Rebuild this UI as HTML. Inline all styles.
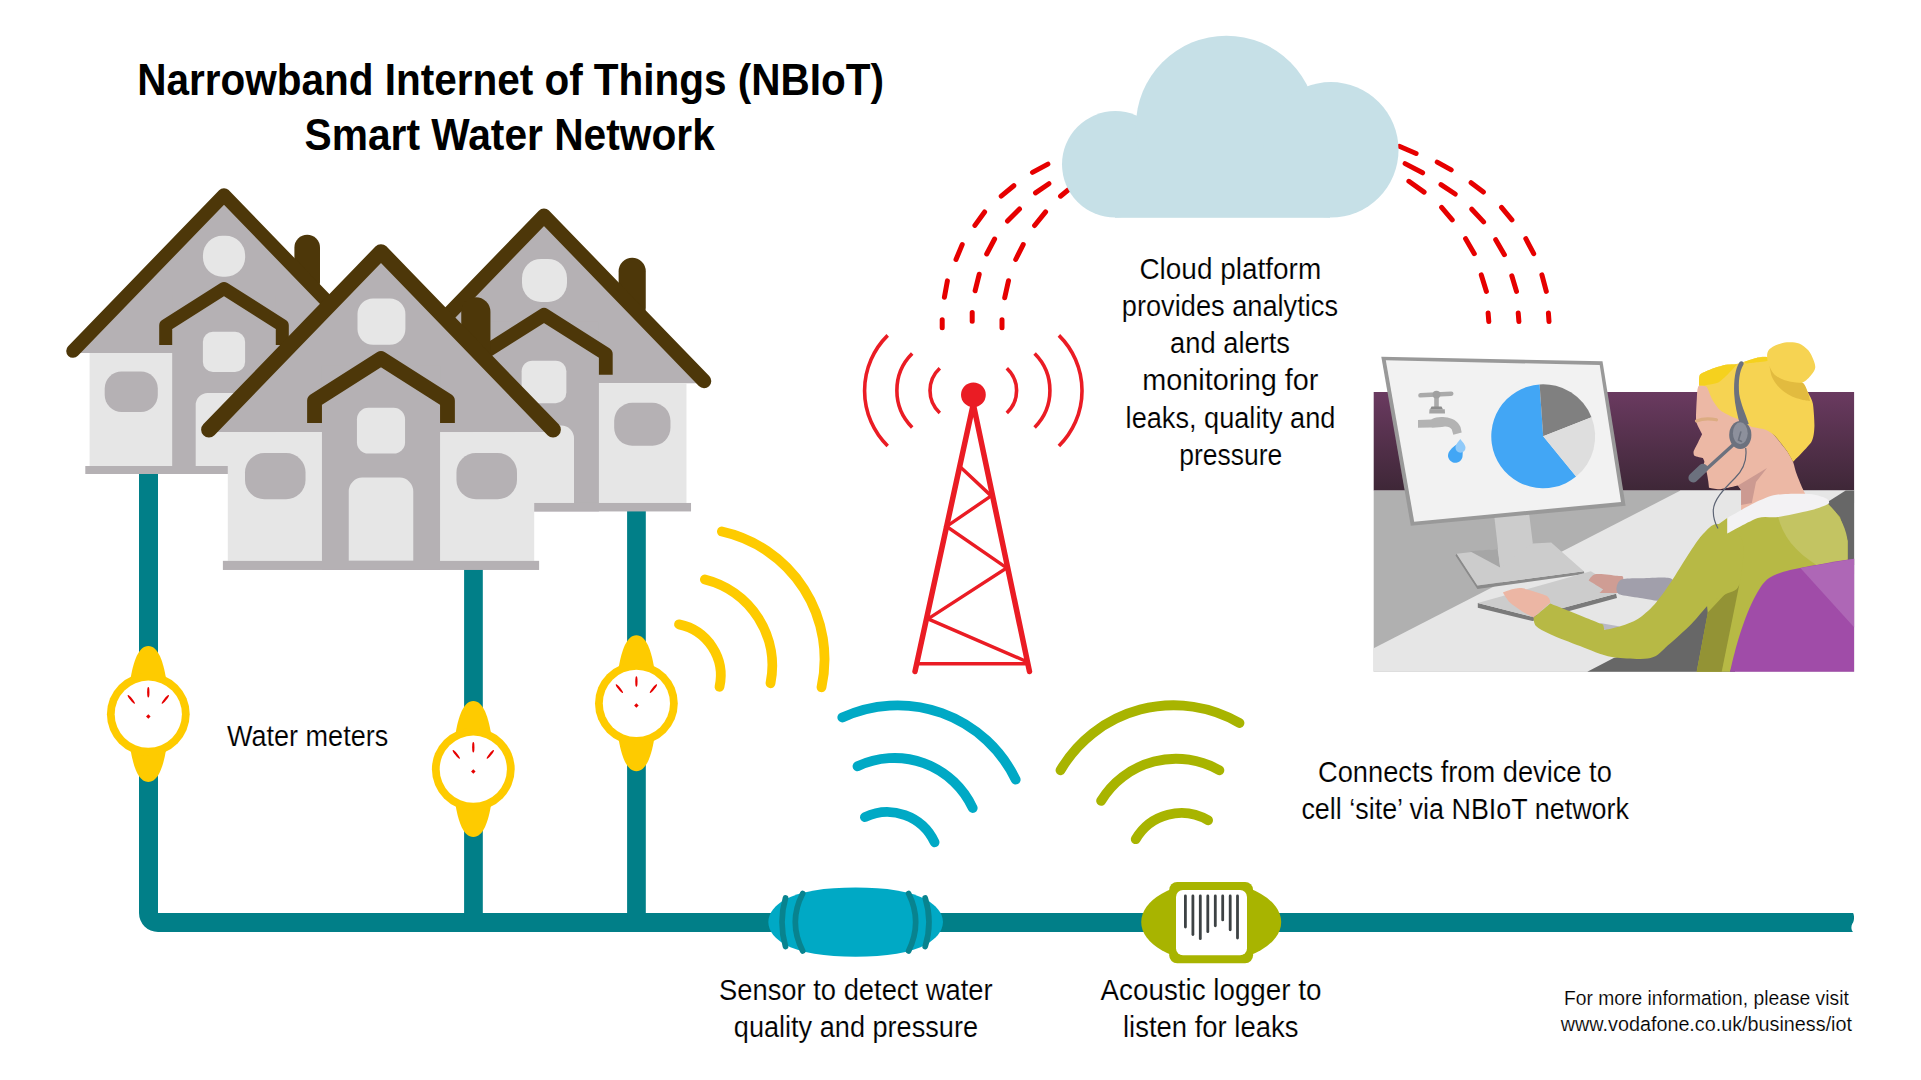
<!DOCTYPE html>
<html><head><meta charset="utf-8"><title>NBIoT Smart Water Network</title>
<style>
html,body{margin:0;padding:0;background:#fff;overflow:hidden;width:1921px;height:1080px}
svg{display:block}
text{font-family:"Liberation Sans",sans-serif;fill:#000}
</style></head><body>
<svg width="1921" height="1080" viewBox="0 0 1921 1080">
<defs>
<g id="house">
 <rect x="70.4" y="39.7" width="25.6" height="60" rx="12.8" fill="#4d3709"/>
 <polygon points="-151,158 0,0 151,158" fill="#b5b1b4"/>
 <rect x="-134.4" y="158" width="268.8" height="113" fill="#e6e6e6"/>
 <rect x="-51.8" y="100" width="103.6" height="179" fill="#b5b1b4"/>
 <path d="M-28.3,271V210a12,12 0 0 1 12,-12H16.3a12,12 0 0 1 12,12V271Z" fill="#e6e6e6"/>
 <rect x="-138.7" y="271" width="277.4" height="8" fill="#b5b1b4"/>
 <rect x="-119.3" y="176.5" width="53.1" height="40.5" rx="17" fill="#b5b1b4"/>
 <rect x="66.2" y="176.5" width="53.1" height="40.5" rx="17" fill="#b5b1b4"/>
 <rect x="-21.1" y="136.8" width="42.2" height="40.1" rx="10" fill="#e6e6e6"/>
 <polyline points="-58.3,150 -58.3,130.5 0,93.5 58.3,130.5 58.3,150" fill="none" stroke="#4d3709" stroke-width="13" stroke-linejoin="round"/>
 <polyline points="-151,156 0,0 151,156" fill="none" stroke="#4d3709" stroke-width="13.6" stroke-linejoin="round" stroke-linecap="round"/>
</g>
<g id="meter">
 <path d="M-17.7,-36 C-15,-52 -10,-68.2 0,-68.2 C10,-68.2 15,-52 17.7,-36 Z" fill="#fecb00"/>
 <path d="M-17.7,36 C-15,52 -10,67.8 0,67.8 C10,67.8 15,52 17.7,36 Z" fill="#fecb00"/>
 <circle cx="0" cy="0" r="41.4" fill="#fecb00"/>
 <circle cx="0" cy="0" r="33.6" fill="#fff"/>
 <g fill="#e60000">
  <ellipse cx="0" cy="-21.9" rx="1.15" ry="5.3"/>
  <ellipse cx="-17" cy="-14.8" rx="1.15" ry="5.6" transform="rotate(-38.7 -17 -14.8)"/>
  <ellipse cx="17" cy="-14.8" rx="1.15" ry="5.6" transform="rotate(38.7 17 -14.8)"/>
 </g>
 <rect x="-1.6" y="0.6" width="3.2" height="3.2" transform="rotate(45 0 2.2)" fill="#e60000"/>
</g>
</defs>

<!-- Title -->

<!-- pipes -->
<g fill="#017f88">
 <path d="M139,470V913A19,19 0 0 0 158,932H1853C1851,930 1851,926 1852.3,923.7C1854.5,921 1854.5,915 1853,913H158V470Z"/>
 <rect x="464.1" y="566" width="18.7" height="354"/>
 <rect x="627.1" y="508" width="18.7" height="412"/>
</g>

<!-- houses -->
<use href="#house" transform="translate(224,195)"/>
<rect x="202.95" y="235.8" width="42.2" height="41" rx="19.5" fill="#e6e6e6"/>
<use href="#house" transform="translate(544,215.7) scale(1.06)"/>
<rect x="522" y="258.9" width="45" height="43.1" rx="19" fill="#e6e6e6"/>
<use href="#house" transform="translate(381,251.9) scale(1.14)"/>
<rect x="357.5" y="298.5" width="47.9" height="46.2" rx="15.6" fill="#e6e6e6"/>

<!-- meters -->
<use href="#meter" transform="translate(148.3,714.2)"/>
<use href="#meter" transform="translate(473.3,769.2)"/>
<use href="#meter" transform="translate(636.4,703.4)"/>

<!-- signal arcs -->
<g fill="none" stroke-width="9.8" stroke-linecap="round">
 <g stroke="#fecb00">
  <path d="M679,624.4A52.2,52.2 0 0 1 719.5,686.8"/>
  <path d="M704.9,579.5A88.9,88.9 0 0 1 770.5,683.3"/>
  <path d="M721.9,531.5A130.8,130.8 0 0 1 821.5,687.3"/>
 </g>
 <g stroke="#00a9c5">
  <path d="M842.3,717.5A131.1,131.1 0 0 1 1015.7,779.7"/>
  <path d="M857.5,766.3A86.3,86.3 0 0 1 972.7,808"/>
  <path d="M864.9,817.1A52,52 0 0 1 934.6,842.3"/>
 </g>
 <g stroke="#a8b400">
  <path d="M1060.5,770.3A131,131 0 0 1 1239.5,723"/>
  <path d="M1101.1,800.9A87.5,87.5 0 0 1 1219.4,770.3"/>
  <path d="M1135.7,839.2A52.8,52.8 0 0 1 1208.1,820.3"/>
 </g>
</g>

<!-- sensor -->
<g>
 <path d="M768.3,922 C768.5,912 776,905 784,900 C800,891 825,887.4 855.6,887.4 C886,887.4 911,891 927,900 C935,905 942.8,912 943,922 C942.8,932 935,939 927,944 C911,953 886,956.8 855.6,956.8 C825,956.8 800,953 784,944 C776,939 768.5,932 768.3,922Z" fill="#00a9c5"/>
 <g fill="none" stroke="#08838f" stroke-width="5.7" stroke-linecap="round">
  <path d="M785.5,898 Q778.5,922 785.5,946.5"/>
  <path d="M802.7,893.5 Q787.9,922 802.7,951"/>
  <path d="M908.6,893.5 Q922.8,922 908.6,951"/>
  <path d="M925.2,898 Q932.8,922 925.2,946.5"/>
 </g>
</g>

<!-- acoustic logger -->
<g>
 <ellipse cx="1211.2" cy="922" rx="70" ry="40" fill="#a8b400"/>
 <rect x="1169.2" y="882" width="83.9" height="81.3" rx="8" fill="#a8b400"/>
 <rect x="1176" y="889.9" width="71" height="65.4" rx="7" fill="#fff"/>
 <g stroke="#3d4244" stroke-width="2.8" stroke-linecap="round">
  <line x1="1185.4" y1="896" x2="1185.4" y2="927"/>
  <line x1="1192.9" y1="896" x2="1192.9" y2="934.5"/>
  <line x1="1200.3" y1="896" x2="1200.3" y2="938.7"/>
  <line x1="1207.8" y1="896" x2="1207.8" y2="931.7"/>
  <line x1="1215.3" y1="896" x2="1215.3" y2="925.8"/>
  <line x1="1222.7" y1="896" x2="1222.7" y2="919.9"/>
  <line x1="1230.2" y1="896" x2="1230.2" y2="929.8"/>
  <line x1="1237.5" y1="896" x2="1237.5" y2="938"/>
 </g>
</g>

<!-- tower -->
<g stroke="#ea1c24" fill="none">
 <g stroke-width="3.6">
  <path d="M939.8,368.2A30.5,30.5 0 0 0 939.8,413"/>
  <path d="M1006.8,368.2A30.5,30.5 0 0 1 1006.8,413"/>
  <path d="M912.2,353.6A52.1,52.1 0 0 0 912.2,427.4"/>
  <path d="M1034.6,353.6A52.1,52.1 0 0 1 1034.6,427.4"/>
  <path d="M887.7,335.4A77.7,77.7 0 0 0 887.7,446"/>
  <path d="M1058.9,335.4A77.7,77.7 0 0 1 1058.9,446"/>
 </g>
 <polyline points="915,671.5 973.3,404 1029.5,671.5" stroke-width="5.5" stroke-linecap="round" stroke-linejoin="round"/>
 <polyline points="960.1,466.8 991.2,495.9 946.6,526.4 1006.7,567.9 928,618.9 1027,661.7" stroke-width="3.4"/>
 <line x1="917" y1="663.7" x2="1027.5" y2="663.7" stroke-width="3.4"/>
 <circle cx="973.4" cy="394.8" r="12.4" fill="#ea1c24" stroke="none"/>
</g>

<!-- dashed arcs -->
<path d="M942.2,319.8L942.2,327.8M947.4,280.9L944.4,297.3M962.2,244.6L956.0,259.5M984.6,212.0L974.9,225.4M1013.8,185.7L1001.2,196.1M1047.9,164.1L1032.5,172.4M972.2,312.4L972.2,321.3M979.2,274.3L975.1,290.8M994.6,239.0L986.7,254.0M1019.5,209.0L1007.5,221.0M1048.9,183.7L1035.5,192.9M1002.0,319.8L1002.0,327.8M1008.5,280.8L1004.7,297.7M1023.2,244.6L1015.7,259.5M1045.6,211.9L1034.6,225.5M1068.4,189.8L1060.5,196.2M1399.3,146.3L1416.1,153.5M1437.2,162.1L1451.2,169.9M1471.1,182.7L1483.4,192.0M1501.5,207.4L1511.9,219.9M1525.8,238.7L1533.7,253.7M1541.9,274.9L1546.3,291.4M1548.4,312.9L1549.0,321.5M1405.1,163.6L1422.6,172.8M1441.0,184.6L1455.2,194.0M1471.8,209.2L1483.6,221.9M1495.7,239.7L1504.4,254.7M1511.8,275.8L1516.5,291.4M1518.2,312.9L1518.9,321.5M1408.9,181.3L1424.1,192.1M1441.6,207.4L1452.2,219.9M1465.6,238.7L1474.3,253.7M1481.3,274.9L1486.4,291.4M1488.1,312.9L1488.8,321.5" fill="none" stroke="#e60000" stroke-width="5.0" stroke-linecap="round"/>
<!-- cloud -->
<g fill="#c6e0e7">
 <circle cx="1115.25" cy="164.35" r="53.25"/>
 <circle cx="1226.4" cy="126.2" r="90.5"/>
 <circle cx="1330.8" cy="149.85" r="67.75"/>
 <rect x="1115" y="150" width="215" height="67.8"/>
</g>

<!-- texts -->
<text x="137.20" y="94.8" font-size="44.5" font-weight="bold" textLength="746.80" lengthAdjust="spacingAndGlyphs">Narrowband Internet of Things (NBIoT)</text>
<text x="304.60" y="149.6" font-size="44.5" font-weight="bold" textLength="410.20" lengthAdjust="spacingAndGlyphs">Smart Water Network</text>
<text x="1139.40" y="278.6" font-size="29" stroke="#fff" stroke-width="0.15" textLength="181.80" lengthAdjust="spacingAndGlyphs">Cloud platform</text>
<text x="1121.80" y="315.8" font-size="29" stroke="#fff" stroke-width="0.15" textLength="216.20" lengthAdjust="spacingAndGlyphs">provides analytics</text>
<text x="1170.00" y="353" font-size="29" stroke="#fff" stroke-width="0.15" textLength="120.00" lengthAdjust="spacingAndGlyphs">and alerts</text>
<text x="1142.20" y="390.4" font-size="29" stroke="#fff" stroke-width="0.15" textLength="176.20" lengthAdjust="spacingAndGlyphs">monitoring for</text>
<text x="1125.60" y="427.5" font-size="29" stroke="#fff" stroke-width="0.15" textLength="209.80" lengthAdjust="spacingAndGlyphs">leaks, quality and</text>
<text x="1179.20" y="464.6" font-size="29" stroke="#fff" stroke-width="0.15" textLength="103.00" lengthAdjust="spacingAndGlyphs">pressure</text>
<text x="227.00" y="745.8" font-size="29" stroke="#fff" stroke-width="0.15" textLength="161.20" lengthAdjust="spacingAndGlyphs">Water meters</text>
<text x="1318.00" y="781.9" font-size="29" stroke="#fff" stroke-width="0.15" textLength="293.80" lengthAdjust="spacingAndGlyphs">Connects from device to</text>
<text x="1301.40" y="818.9" font-size="29" stroke="#fff" stroke-width="0.15" textLength="327.60" lengthAdjust="spacingAndGlyphs">cell ‘site’ via NBIoT network</text>
<text x="719.00" y="999.9" font-size="29" stroke="#fff" stroke-width="0.15" textLength="273.60" lengthAdjust="spacingAndGlyphs">Sensor to detect water</text>
<text x="733.80" y="1036.6" font-size="29" stroke="#fff" stroke-width="0.15" textLength="244.20" lengthAdjust="spacingAndGlyphs">quality and pressure</text>
<text x="1100.60" y="999.9" font-size="29" stroke="#fff" stroke-width="0.15" textLength="220.80" lengthAdjust="spacingAndGlyphs">Acoustic logger to</text>
<text x="1123.00" y="1036.6" font-size="29" stroke="#fff" stroke-width="0.15" textLength="175.40" lengthAdjust="spacingAndGlyphs">listen for leaks</text>
<text x="1564.00" y="1004.8" font-size="20" stroke="#fff" stroke-width="0.15" textLength="284.80" lengthAdjust="spacingAndGlyphs">For more information, please visit</text>
<text x="1560.80" y="1031.3" font-size="20" stroke="#fff" stroke-width="0.15" textLength="291.20" lengthAdjust="spacingAndGlyphs">www.vodafone.co.uk/business/iot</text>
<g id="office">
<defs><linearGradient id="wall" x1="0" y1="0" x2="0" y2="1"><stop offset="0" stop-color="#6a3a60"/><stop offset="1" stop-color="#3e2737"/></linearGradient></defs>
<rect x="1373.7" y="392" width="480.4" height="98.6" fill="url(#wall)"/>
<rect x="1373.7" y="490.6" width="480.4" height="181.1" fill="#b0b0b0"/>
<path d="M1373.7,648.2 1680.5,490.6 1854.1,490.6 1854.1,671.7 1373.7,671.7Z" fill="#e6e6e6"/>
<path d="M1845.7,490.6 1854.1,490.6 1854.1,565.0 1826.0,565.0 1826.0,503.0Z" fill="#676767"/>
<path d="M1587.3,671.7 1613.7,658.0 1650.0,648.0 1700.0,598.0 1735.0,578.0 1735.0,671.7Z" fill="#676767"/>
<path d="M1455.5,555.5 1477.4,589.0 1584.5,574.0 1583.8,571.3 1477.4,585.6 1456.7,553.7Z" fill="#8a8a8a"/>
<path d="M1456.7,553.7 1497.6,548.9 1532.8,543.6 1551.2,542.4 1583.8,571.3 1477.4,585.6Z" fill="#cccccc"/>
<path d="M1470.0,551.3 1497.6,548.9 1500.2,567.4Z" fill="#a6a6a6"/>
<path d="M1493.0,505.0 1528.0,505.0 1532.8,543.6 1500.2,567.4Z" fill="#cccccc"/>
<path d="M1381.3,356.7 1602.5,361.3 1625.6,505.8 1410.8,525.8Z" fill="#999999"/>
<path d="M1385.8,360.3 1599.7,365.0 1621.0,502.0 1414.2,521.7Z" fill="#f2f2f2"/>
<path d="M1543.2,436.3L1576.1,476.6A52,52 0 1 1 1539.6,384.4Z" fill="#42a6f5"/>
<path d="M1543.2,436.3L1539.6,384.4A52,52 0 0 1 1591.5,417.2Z" fill="#808080"/>
<path d="M1543.2,436.3L1591.5,417.2A52,52 0 0 1 1576.1,476.6Z" fill="#dedede"/>
<g>
<line x1="1420.5" y1="395.3" x2="1451.2" y2="393.7" stroke="#aaaaaa" stroke-width="4.6" stroke-linecap="round"/>
<rect x="1434.2" y="395" width="4.6" height="13" fill="#aaaaaa"/>
<circle cx="1436.5" cy="394.6" r="3.9" fill="#a0a0a0"/>
<path d="M1431.5,406.6 1441.5,406.6 1443.0,409.5 1430.0,409.5Z" fill="#8c8c8c"/>
<path d="M1429.5,409.3 1444.8,409.3 1445.0,413.6 1429.2,413.6Z" fill="#a3a3a3"/>
<path d="M1418,420 L1431,419.5 C1436,417 1440,416.6 1445,417.2 C1452,417.8 1458,421 1460.5,427 L1461.7,432.5 L1453.3,434.8 L1451.8,429.5 C1450.5,427.5 1448,426.5 1445,426.6 C1440,427.3 1434,428 1430,427.6 L1418,427.7Z" fill="#b3b3b3"/>
</g>
<path d="M1461.8,441.5 C1462.5,448 1463,451 1462.6,455.5 A7.3,7.3 0 1 1 1449.6,451 C1452,447 1457,444 1461.8,441.5Z" fill="#42a6f5"/>
<path d="M1460.3,439 C1462,441.5 1465.5,444.5 1465.5,447.8 A5,5 0 0 1 1455.5,447.8 C1455.5,444.5 1458.6,441.5 1460.3,439Z" fill="#90caf9"/>
<path d="M1477.8,603.1 1477.8,607.8 1532.5,621.0 1617.0,598.0 1616.0,593.8 1531.0,616.5Z" fill="#7a7a7a"/>
<path d="M1477.8,603.1 1590.8,571.3 1622.0,590.0 1616.0,593.8 1531.0,616.5Z" fill="#cccccc"/>
<path d="M1588.7,580.6C1588.7,580.6 1591.3,574.9 1596.1,574.1C1600.8,573.3 1612.7,575.2 1617.2,575.8C1621.7,576.4 1622.8,575.0 1623.3,577.9C1623.8,580.8 1620.0,592.9 1620.0,592.9C1620.0,592.9 1599.6,592.9 1599.6,592.9C1599.6,592.9 1603.1,589.4 1603.1,589.4C1603.1,589.4 1588.7,580.6 1588.7,580.6Z" fill="#cf9d94"/>
<path d="M1617.5,584.0C1618.2,582.6 1619.0,580.1 1622.0,579.3C1625.0,578.5 1633.3,578.3 1640.0,578.3C1646.7,578.3 1668.3,576.0 1672.0,579.0C1675.7,582.0 1672.3,598.0 1668.0,600.5C1663.7,603.0 1646.4,598.8 1640.0,598.0C1633.6,597.2 1623.1,595.7 1620.0,594.6C1616.9,593.5 1616.8,591.4 1616.5,590.0C1616.2,588.6 1616.8,585.4 1617.5,584.0Z" fill="#a19fab"/>
<path d="M1700.0,537.5 1727.2,518.0 1828.1,504.1 1840.0,517.0 1847.6,541.1 1847.6,575.0 1760.0,600.0 1730.0,671.7 1696.7,671.7 1707.8,613.3Z" fill="#b7b945"/>
<path d="M1778,516 C1782,535 1795,552 1818,566 L1847.6,561 L1847.6,541 C1846,528 1840,515 1828,504 Z" fill="#c3c462"/>
<path d="M1696.7,671.7 1707.8,612.5 1724.4,594.8 1739.3,584.6 1721.7,671.7Z" fill="#939335"/>
<path d="M1600.0,623.0 1620.0,626.5 1606.0,632.0Z" fill="#b9b8c4"/>
<path d="M1550.3,603.4C1550.3,603.4 1603.1,624.5 1603.1,624.5C1603.1,624.5 1604.5,630.0 1604.5,630.0C1604.5,630.0 1616.0,627.7 1621.0,626.0C1626.0,624.3 1632.8,622.1 1637.8,618.9C1642.8,615.7 1649.4,609.9 1654.4,604.4C1659.4,598.9 1666.0,589.4 1671.0,582.0C1676.0,574.6 1683.2,562.2 1688.0,555.0C1692.8,547.8 1698.5,538.6 1703.0,534.0C1707.5,529.4 1712.2,523.1 1718.0,524.0C1723.8,524.9 1738.8,530.9 1742.0,540.0C1745.2,549.1 1741.9,576.4 1739.3,584.6C1736.7,592.8 1729.0,591.8 1724.4,594.8C1719.8,597.8 1713.9,600.0 1708.9,604.4C1704.0,608.8 1697.5,617.8 1691.4,623.9C1685.3,630.0 1674.1,640.1 1668.0,645.2C1661.9,650.3 1658.9,656.1 1650.5,657.9C1642.1,659.7 1622.6,658.9 1612.0,657.1C1601.4,655.3 1589.3,649.4 1580.0,646.0C1570.7,642.6 1556.9,637.2 1550.3,634.2C1543.7,631.2 1538.5,628.5 1536.0,626.0C1533.5,623.5 1533.6,617.5 1533.6,617.5C1533.6,617.5 1550.3,603.4 1550.3,603.4Z" fill="#b7b945"/>
<path d="M1502.9,592.4C1502.9,592.4 1514.8,587.7 1520.5,588.1C1526.2,588.5 1542.0,593.6 1546.0,595.5C1550.0,597.4 1550.3,602.6 1550.3,602.6C1550.3,602.6 1533.6,617.5 1533.6,617.5C1533.6,617.5 1525.4,613.4 1522.2,611.4C1519.0,609.4 1512.5,605.1 1509.9,602.6C1507.3,600.1 1502.9,592.4 1502.9,592.4Z" fill="#ecb6a4"/>
<path d="M1730,671.7 C1737,640 1748,605 1762,585 C1768,577 1775,574 1790,570 C1810,566 1830,562 1854.1,558.7 L1854.1,671.7Z" fill="#a04ca8"/>
<path d="M1800.4,568.0 1854.1,558.7 1854.1,627.2Z" fill="#ae67b6"/>
<path d="M1699.1,385.4C1696.8,387.3 1697.1,396.0 1696.8,399.2C1696.5,402.4 1696.0,415.1 1696.0,417.5C1696.0,419.9 1696.2,421.9 1696.8,423.6C1697.4,425.3 1702.1,434.3 1702.1,434.3C1702.1,434.3 1699.1,440.2 1698.3,441.9C1697.5,443.6 1694.1,449.7 1693.7,451.1C1693.3,452.5 1693.6,455.0 1694.5,455.7C1695.4,456.4 1702.9,458.0 1702.9,458.0C1702.9,458.0 1704.4,461.0 1704.4,461.8C1704.4,462.6 1702.9,466.0 1702.9,466.0C1702.9,466.0 1706.2,470.9 1706.7,472.5C1707.2,474.1 1708.1,480.1 1708.3,481.6C1708.5,483.1 1709.0,487.7 1709.0,487.7C1709.0,487.7 1716.8,489.5 1719.7,489.3C1722.6,489.1 1738.0,485.5 1738.0,485.5C1738.0,485.5 1741.1,490.0 1741.1,490.0C1741.1,490.0 1741.1,515.0 1741.1,515.0C1741.1,515.0 1807.0,505.0 1807.0,505.0C1807.0,505.0 1805.3,493.9 1805.3,493.9C1805.3,493.9 1803.1,489.8 1802.2,487.7C1801.3,485.6 1797.0,475.1 1796.1,472.5C1795.2,469.9 1793.9,463.9 1793.0,461.8C1792.1,459.7 1788.7,453.7 1786.9,451.1C1785.1,448.5 1777.4,438.9 1774.7,435.8C1772.0,432.7 1763.0,424.1 1760.0,420.0C1757.0,415.9 1749.0,399.0 1745.0,395.0C1741.0,391.0 1724.6,381.0 1720.0,380.0C1715.4,379.0 1701.4,383.5 1699.1,385.4Z" fill="#ecb8a5"/>
<path d="M1738.0,485.5 1767.0,467.9 1756.0,482.0 1751.8,503.0 1741.1,505.0 1741.1,490.0Z" fill="#cc9a91"/>
<path d="M1727.2,518.0C1727.2,518.0 1747.6,506.2 1754.1,503.1C1760.6,500.0 1768.9,496.0 1776.3,494.8C1783.7,493.6 1802.9,493.4 1809.6,493.9C1816.3,494.4 1823.8,497.1 1826.3,498.5C1828.8,499.9 1830.3,502.5 1828.1,504.1C1825.9,505.7 1816.3,508.9 1809.6,510.6C1802.9,512.3 1785.0,516.0 1778.1,517.0C1771.2,518.0 1764.6,515.8 1757.8,518.0C1751.0,520.2 1727.2,533.7 1727.2,533.7C1727.2,533.7 1727.2,518.0 1727.2,518.0Z" fill="#f3f2f4"/>
<path d="M1696.5,421 Q1705,417.5 1716.5,419.8" fill="none" stroke="#dcac82" stroke-width="3.2" stroke-linecap="round"/>
<path d="M1699.1,385.4C1699.1,385.4 1698.6,376.6 1699.9,374.7C1701.2,372.8 1707.5,370.6 1710.5,369.4C1713.5,368.2 1722.8,365.4 1725.8,364.8C1728.8,364.2 1734.4,364.4 1736.5,364.0C1738.6,363.6 1741.9,362.4 1744.2,361.7C1746.5,361.0 1753.7,358.4 1756.4,357.9C1759.1,357.4 1763.8,356.2 1767.1,357.1C1770.4,358.0 1780.9,363.0 1785.0,366.0C1789.1,369.0 1799.5,379.2 1802.2,382.4C1804.9,385.5 1807.1,390.5 1808.3,393.0C1809.5,395.5 1812.2,399.8 1812.9,403.7C1813.6,407.6 1814.6,422.1 1814.4,426.6C1814.2,431.1 1813.9,437.8 1811.4,441.9C1808.9,446.0 1793.0,461.8 1793.0,461.8C1793.0,461.8 1789.0,454.1 1786.9,451.1C1784.8,448.1 1777.2,438.3 1774.7,435.8C1772.2,433.3 1768.2,430.7 1765.5,429.7C1762.8,428.7 1751.8,427.0 1751.8,427.0C1751.8,427.0 1742.5,421.3 1740.0,420.0C1737.5,418.7 1732.8,417.2 1730.4,416.0C1728.0,414.8 1721.8,411.8 1719.7,409.8C1717.6,407.8 1713.6,401.9 1712.1,399.2C1710.6,396.5 1708.2,388.5 1706.7,386.9C1705.2,385.3 1699.1,385.4 1699.1,385.4Z" fill="#f6d352"/>
<path d="M1769.5,366.0C1769.5,366.0 1770.9,374.3 1772.0,377.0C1773.1,379.7 1775.9,383.9 1777.8,386.0C1779.7,388.1 1783.8,391.5 1786.0,393.0C1788.2,394.5 1792.3,396.7 1794.6,397.6C1796.9,398.5 1800.9,399.5 1803.0,400.0C1805.1,400.5 1810.0,401.0 1810.0,401.0C1810.0,401.0 1808.9,395.4 1808.0,393.0C1807.1,390.6 1805.4,384.6 1803.0,383.0C1800.6,381.4 1793.6,382.0 1790.0,381.0C1786.4,380.0 1778.7,377.5 1776.0,375.5C1773.3,373.5 1769.5,366.0 1769.5,366.0Z" fill="#e2bb3f"/>
<path d="M1767.1,356.4C1767.0,354.0 1767.5,351.9 1768.6,350.3C1769.7,348.7 1772.0,346.9 1774.7,345.7C1777.4,344.5 1783.2,342.6 1786.9,342.3C1790.6,342.0 1795.9,342.2 1799.1,343.4C1802.3,344.6 1806.1,347.8 1808.3,350.3C1810.5,352.8 1812.5,357.4 1813.5,360.0C1814.5,362.6 1815.5,365.6 1815.2,367.8C1814.9,370.0 1813.4,372.5 1811.4,374.7C1809.5,376.9 1805.9,381.5 1802.2,382.4C1798.5,383.3 1791.0,382.0 1786.9,380.8C1782.8,379.6 1777.3,376.9 1774.7,374.7C1772.1,372.5 1770.6,368.7 1769.5,366.0C1768.4,363.3 1767.2,358.8 1767.1,356.4Z" fill="#f6d352"/>
<path d="M1699.1,385.4C1699.1,385.4 1698.8,376.3 1699.9,374.7C1701.0,373.1 1707.9,370.4 1710.5,369.4C1713.1,368.4 1723.1,365.3 1725.8,364.8C1728.5,364.3 1737.0,364.5 1737.0,364.5C1737.0,364.5 1729.3,372.9 1727.4,374.7C1725.5,376.5 1720.5,381.3 1718.2,382.4C1715.9,383.5 1704.0,385.4 1704.0,385.4C1704.0,385.4 1699.1,385.4 1699.1,385.4Z" fill="#f5d11e"/>
<path d="M1744.2,361.7C1744.2,361.7 1754.1,358.4 1756.4,357.9C1758.7,357.4 1767.1,357.1 1767.1,357.1C1767.1,357.1 1767.5,361.0 1767.5,361.0C1767.5,361.0 1757.2,362.2 1755.0,362.5C1752.8,362.8 1746.0,363.5 1746.0,363.5C1746.0,363.5 1744.2,361.7 1744.2,361.7Z" fill="#f5d11e"/>
<path d="M1739.6,362 C1735.3,368.5 1733.6,380 1734.2,394 C1734.8,405 1737.3,414 1739.8,424 L1748.8,424 C1745.2,413 1740.8,404 1739.2,394 C1738.2,382 1739.3,371 1743.5,364.5 C1744.5,362 1741.5,360 1739.6,362Z" fill="#6c717e"/>
<line x1="1733" y1="445" x2="1706" y2="469.4" stroke="#6c717e" stroke-width="3.4" stroke-linecap="round"/>
<line x1="1703" y1="468.6" x2="1693.2" y2="477.8" stroke="#6c717e" stroke-width="9.6" stroke-linecap="round"/>
<ellipse cx="1740.3" cy="435" rx="11.1" ry="14.1" fill="#6c717e"/>
<ellipse cx="1740.3" cy="433.2" rx="7.4" ry="11" fill="#8d909c"/>
<path d="M1740.8,432 L1738.5,440 L1741.5,441.5" fill="none" stroke="#6c717e" stroke-width="1.6" stroke-linecap="round"/>
<path d="M1745.7,448 C1747,458 1745,468 1735,478 C1722,491 1714,500 1713.3,510 C1713,518 1715.5,524 1718,528.5" fill="none" stroke="#5d6474" stroke-width="1.2"/>
</g>
</svg>
</body></html>
